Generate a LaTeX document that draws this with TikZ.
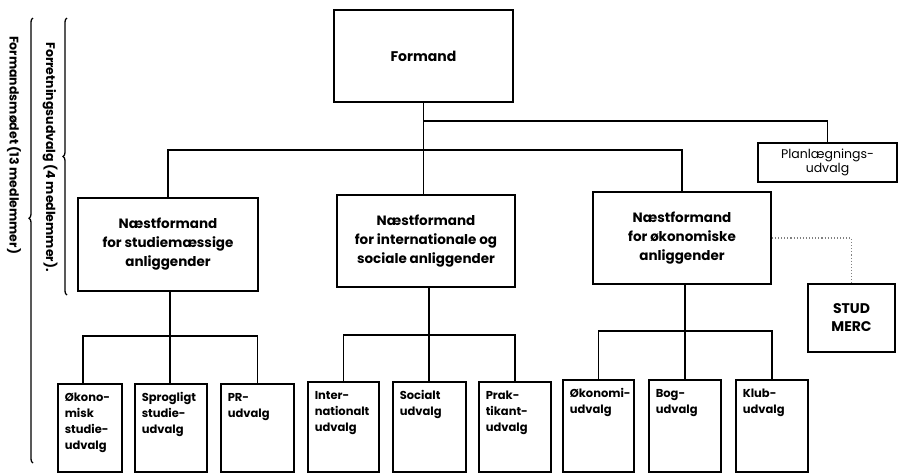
\documentclass[tikz,border=0pt]{standalone}
\usepackage{fontspec}
\setmainfont{Poppins}
\usetikzlibrary{decorations.pathreplacing}
\newcommand\orgbox[6]{\node[cbox] (#1) at (#2,#3) {\parbox[t][\dimexpr #5pt-#3pt\relax][t]{\dimexpr #4pt-#2pt\relax}{\vspace*{6pt}\raggedright\leftskip=7pt\relax\strut #6}};}
\begin{document}
\begin{tikzpicture}[x=1pt,y=-1pt,
  line width=1.6pt,
  mbox/.style={draw, inner sep=0pt, align=center, font=\bfseries\fontsize{13.5}{19}\selectfont},
  pbox/.style={draw, inner sep=0pt, align=center, font=\fontsize{12.5}{14}\selectfont},
  cbox/.style={draw, inner sep=0pt, anchor=north west, font=\bfseries\fontsize{11.5}{16}\selectfont},
  wire/.style={line width=1.6pt},
  dots/.style={line width=1.1pt, dotted, gray},
  bracetxt/.style={rotate=-90, font=\bfseries\fontsize{12.5}{14}\selectfont},
  bracepath/.style={line width=1.3pt, decorate, decoration={brace, amplitude=4pt, #1}}
]
\useasboundingbox (0,0) rectangle (899,474);

% main boxes
\node[mbox, minimum width=179pt, minimum height=92pt, font=\bfseries\fontsize{14}{19}\selectfont] (formand) at (423.5,56) {Formand};
\node[mbox, minimum width=180pt, minimum height=93pt] (n1) at (168,244.5) {Næstformand\\for studiemæssige\\anliggender};
\node[mbox, minimum width=178pt, minimum height=92pt] (n2) at (426,241) {Næstformand\\for internationale og\\sociale anliggender};
\node[mbox, minimum width=178pt, minimum height=92pt] (n3) at (682,238) {Næstformand\\for økonomiske\\anliggender};
\node[pbox, minimum width=139pt, minimum height=39pt] (plan) at (827.5,162.5) {Planlægnings-\\udvalg};
\node[mbox, minimum width=87pt, minimum height=68pt, font=\bfseries\fontsize{14}{18}\selectfont] (stud) at (851.5,318) {STUD\\MERC};

% committee boxes
\orgbox{c1}{57}{383}{121}{471}{Økono-\\misk\\studie-\\udvalg}
\orgbox{c2}{134}{383}{206}{471}{Sprogligt\\studie-\\udvalg}
\orgbox{c3}{220}{383}{293}{471}{PR-\\udvalg}
\orgbox{c4}{307}{381}{378}{471}{Inter-\\nationalt\\udvalg}
\orgbox{c5}{392}{381}{465}{471}{Socialt\\udvalg}
\orgbox{c6}{478}{381}{550}{471}{Prak-\\tikant-\\udvalg}
\orgbox{c7}{562}{379}{633}{471}{Økonomi-\\udvalg}
\orgbox{c8}{648}{379}{720}{471}{Bog-\\udvalg}
\orgbox{c9}{735}{379}{807}{471}{Klub-\\udvalg}

% connectors from Formand
\coordinate (hub) at (423.5,150);
\coordinate (phub) at (423.5,121);
\draw[wire] (formand.south) -- (formand.south |- n2.north);
\draw[wire] (n1.north) |- (hub) -| (n3.north);
\draw[wire] (phub) -| (plan.north);

% dotted link
\draw[dots] (n3.east) -| (stud.north);

% groups
\coordinate (h1) at (170,336);
\coordinate (h2) at (429,335);
\coordinate (h3) at (685,331);
\draw[wire] (n1.south -| h1) -- (h1);
\draw[wire] ([xshift=-7pt]c1.north) |- (h1) -| (c3.north);
\draw[wire] (h1) -- (h1 |- c2.north);
\draw[wire] (n2.south -| h2) -- (h2);
\draw[wire] (c4.north) |- (h2) -| (c6.north);
\draw[wire] (h2) -- (h2 |- c5.north);
\draw[wire] (n3.south -| h3) -- (h3);
\draw[wire] (c7.north) |- (h3) -| (c9.north);
\draw[wire] (h3) -- (h3 |- c8.north);

% braces
\coordinate (ob1) at (33,463);
\coordinate (ob2) at (33,18);
\coordinate (ib1) at (67,295);
\coordinate (ib2) at (67,18);
\draw[bracepath={aspect=0.55}] (ob1) -- (ob2);
\draw[bracepath={aspect=0.5}] (ib1) -- (ib2);
\node[bracetxt] (t1) at (50,157) {Forretningsudvalg (4 medlemmer).};
\node[bracetxt] (t2) at (14,145) {Formandsmødet (13 medlemmer)};
\end{tikzpicture}
\end{document}
